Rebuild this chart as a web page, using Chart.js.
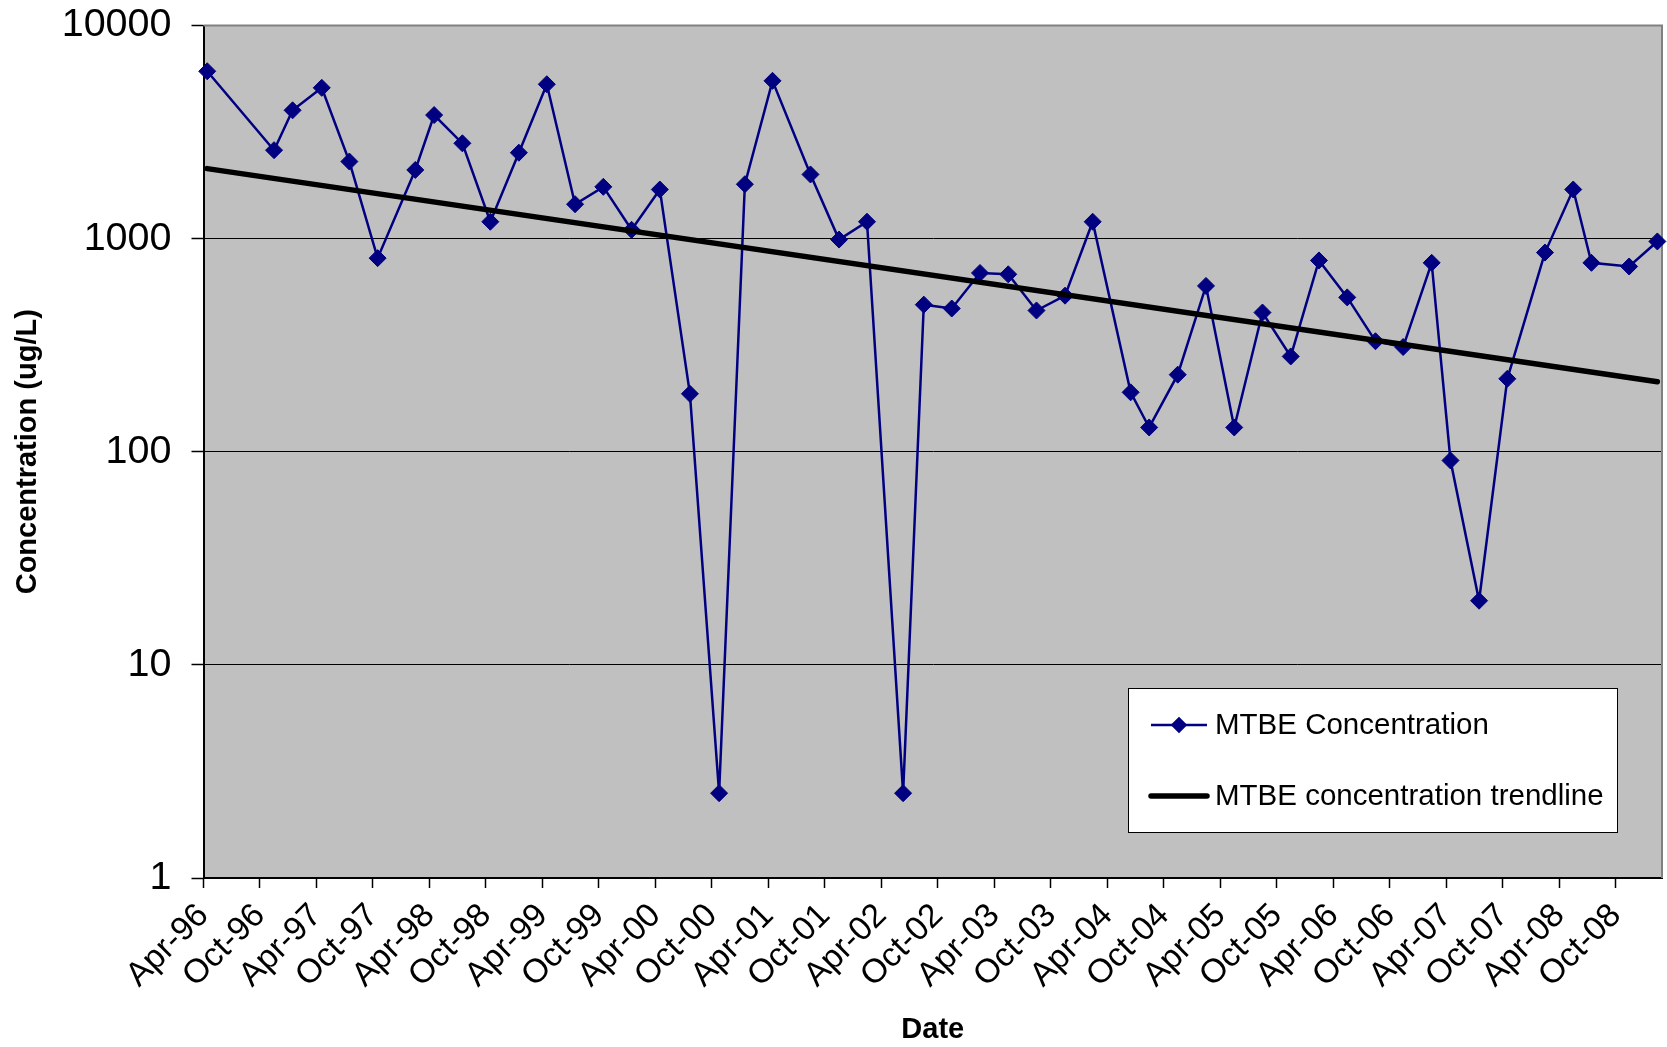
<!DOCTYPE html>
<html>
<head>
<meta charset="utf-8">
<title>MTBE Concentration</title>
<script src="https://cdn.jsdelivr.net/npm/chart.js@4.4.1/dist/chart.umd.min.js"></script>
<style>
  html, body { margin: 0; padding: 0; background: #ffffff; overflow: hidden; }
  canvas { display: block; }
</style>
</head>
<body>
<canvas id="chart" width="1667" height="1047"></canvas>
<script>
// Sampling dates (YYYY-MM-DD) and measured MTBE concentrations (ug/L)
const sampleDates = [
  '1996-04-13', '1996-11-16', '1997-01-15', '1997-04-18', '1997-07-16', '1997-10-16',
  '1998-02-16', '1998-04-16', '1998-07-16', '1998-10-15', '1999-01-16', '1999-04-15',
  '1999-07-15', '1999-10-15', '2000-01-15', '2000-04-15', '2000-07-21', '2000-10-24',
  '2001-01-16', '2001-04-14', '2001-08-15', '2001-11-16', '2002-02-15', '2002-06-10',
  '2002-08-16', '2002-11-15', '2003-02-15', '2003-05-15', '2003-08-15', '2003-11-16',
  '2004-02-14', '2004-06-15', '2004-08-14', '2004-11-15', '2005-02-15', '2005-05-15',
  '2005-08-15', '2005-11-15', '2006-02-15', '2006-05-15', '2006-08-15', '2006-11-13',
  '2007-02-14', '2007-04-14', '2007-07-15', '2007-10-15', '2008-02-15', '2008-05-15',
  '2008-07-13', '2008-11-13', '2009-02-13'
];
const mtbeValues = [
  6100, 2600, 4000, 5100, 2300, 810,
  2100, 3800, 2800, 1200, 2530, 5300,
  1450, 1750, 1100, 1700, 187, 2.5,
  1800, 5500, 2000, 990, 1200, 2.5,
  490, 470, 690, 680, 460, 540,
  1200, 190, 130, 230, 600, 130,
  450, 280, 790, 530, 330, 310,
  770, 91, 20, 220, 860, 1700,
  770, 740, 970
];

// Exponential trendline end points
const trendDates = ['1996-04-13', '2009-02-13'];
const trendValues = [2130, 213];

// Date axis tick labels (every six months)
const tickLabels = [
  'Apr-96', 'Oct-96', 'Apr-97', 'Oct-97', 'Apr-98', 'Oct-98', 'Apr-99', 'Oct-99',
  'Apr-00', 'Oct-00', 'Apr-01', 'Oct-01', 'Apr-02', 'Oct-02', 'Apr-03', 'Oct-03',
  'Apr-04', 'Oct-04', 'Apr-05', 'Oct-05', 'Apr-06', 'Oct-06', 'Apr-07', 'Oct-07',
  'Apr-08', 'Oct-08'
];
const axisStartDate = '1996-04-01';
const axisEndDate = '2009-02-28';

// Concentration axis ticks
const concentrationTicks = [1, 10, 100, 1000, 10000];

const seriesLabel = 'MTBE Concentration';
const trendLabel = 'MTBE concentration trendline';

// ---- helpers: dates are placed on a continuous month scale ----
const MONTHS = { Jan: 1, Feb: 2, Mar: 3, Apr: 4, May: 5, Jun: 6, Jul: 7, Aug: 8, Sep: 9, Oct: 10, Nov: 11, Dec: 12 };
const [baseY, baseM] = axisStartDate.split('-').map(Number);
function monthPos(iso) {
  const [y, m, d] = iso.split('-').map(Number);
  return (y - baseY) * 12 + (m - baseM) + (d - 1) / 30.44;
}
function labelPos(lbl) {
  const [mon, yy] = lbl.split('-');
  const y = Number(yy) + (Number(yy) > 50 ? 1900 : 2000);
  return (y - baseY) * 12 + (MONTHS[mon] - baseM);
}
const tickPositions = tickLabels.map(labelPos);
const labelByPos = new Map(tickPositions.map((p, i) => [p, tickLabels[i]]));

const mtbePoints = sampleDates.map((d, i) => ({ x: monthPos(d), y: mtbeValues[i] }));
const trendPoints = trendDates.map((d, i) => ({ x: monthPos(d), y: trendValues[i] }));

const NAVY = '#000080';
const FONT = "'Liberation Sans', Arial, Helvetica, sans-serif";

// Grey plot area and its outline
const plotArea = {
  id: 'plotArea',
  beforeDraw(chart) {
    const { ctx, chartArea: a } = chart;
    ctx.save();
    ctx.fillStyle = '#c0c0c0';
    ctx.fillRect(a.left, a.top, a.right - a.left, a.bottom - a.top);
    ctx.restore();
  },
  beforeDatasetsDraw(chart) {
    const { ctx, chartArea: a } = chart;
    ctx.save();
    ctx.strokeStyle = '#808080';
    ctx.lineWidth = 2;
    ctx.beginPath();
    ctx.moveTo(a.left, a.top);
    ctx.lineTo(a.right, a.top);
    ctx.lineTo(a.right, a.bottom);
    ctx.stroke();
    ctx.restore();
  }
};

// Boxed legend inside the lower right of the plot
const boxLegend = {
  id: 'boxLegend',
  afterDraw(chart) {
    const { ctx, chartArea: a } = chart;
    const w = 489, h = 144;
    const x = a.right - 45 - w;
    const y = a.bottom - 46 - h;
    ctx.save();
    ctx.fillStyle = '#ffffff';
    ctx.fillRect(x, y, w, h);
    ctx.strokeStyle = '#000000';
    ctx.lineWidth = 1;
    ctx.strokeRect(x + 0.5, y + 0.5, w, h);

    const items = chart.data.datasets.slice().sort((p, q) => q.order - p.order);
    const rows = [y + 37, y + 108];
    items.forEach((ds, i) => {
      const ry = rows[i];
      ctx.strokeStyle = ds.borderColor;
      ctx.lineWidth = ds.borderWidth;
      ctx.lineCap = ds.borderCapStyle || 'butt';
      ctx.beginPath();
      ctx.moveTo(x + 23, ry);
      ctx.lineTo(x + 79, ry);
      ctx.stroke();
      if (ds.pointRadius > 0) {
        Chart.helpers.drawPoint(ctx, {
          pointStyle: ds.pointStyle, radius: ds.pointRadius - 2, borderWidth: 1
        }, x + 51, ry);
        ctx.fillStyle = ds.pointBackgroundColor;
        ctx.fill();
      }
      ctx.fillStyle = '#000000';
      ctx.font = `29.5px ${FONT}`;
      ctx.textBaseline = 'middle';
      ctx.textAlign = 'left';
      ctx.fillText(ds.label, x + 87, ry + 1);
    });
    ctx.restore();
  }
};

new Chart(document.getElementById('chart'), {
  type: 'line',
  data: {
    datasets: [
      {
        label: seriesLabel,
        data: mtbePoints,
        borderColor: NAVY,
        backgroundColor: NAVY,
        borderWidth: 2.5,
        pointStyle: 'rectRot',
        pointRadius: 8.5,
        pointBorderWidth: 1,
        pointBackgroundColor: NAVY,
        pointBorderColor: NAVY,
        tension: 0,
        clip: false,
        order: 1
      },
      {
        label: trendLabel,
        data: trendPoints,
        borderColor: '#000000',
        backgroundColor: '#000000',
        borderWidth: 5.5,
        borderCapStyle: 'round',
        pointRadius: 0,
        tension: 0,
        order: 0
      }
    ]
  },
  options: {
    responsive: false,
    animation: false,
    devicePixelRatio: 1,
    layout: { autoPadding: false, padding: { left: 0, right: 5, top: 25.5, bottom: 0 } },
    plugins: {
      legend: { display: false },
      tooltip: { enabled: false }
    },
    scales: {
      x: {
        type: 'linear',
        min: monthPos(axisStartDate),
        max: monthPos(axisEndDate),
        afterBuildTicks(scale) {
          scale.ticks = tickPositions.map(v => ({ value: v }));
        },
        afterFit(scale) {
          scale.height = 169;
          scale.paddingLeft = 0;
          scale.paddingRight = 0;
        },
        ticks: {
          autoSkip: false,
          maxRotation: 45,
          minRotation: 45,
          padding: 8,
          color: '#000000',
          font: { family: FONT, size: 33.5 },
          callback: v => labelByPos.get(v) ?? ''
        },
        grid: {
          drawOnChartArea: false,
          drawTicks: true,
          tickLength: 10,
          tickColor: '#000000',
          tickWidth: 1.5
        },
        border: { display: true, color: '#000000', width: 2 },
        title: {
          display: true,
          text: 'Date',
          color: '#000000',
          font: { family: FONT, size: 29, weight: 'bold' },
          padding: { top: 0, bottom: 0 }
        }
      },
      y: {
        type: 'logarithmic',
        min: 1,
        max: 10000,
        afterBuildTicks(scale) {
          scale.ticks = concentrationTicks.map(v => ({ value: v }));
        },
        afterFit(scale) {
          scale.width = 203.5;
          scale.paddingTop = 0;
          scale.paddingBottom = 0;
        },
        ticks: {
          padding: 20,
          color: '#000000',
          font: { family: FONT, size: 39.5 },
          callback: v => String(v)
        },
        grid: {
          drawOnChartArea: true,
          drawTicks: true,
          tickLength: 12,
          tickColor: '#000000',
          tickWidth: 1.5,
          color: c => (c.tick && c.tick.value === 10000 ? 'rgba(0,0,0,0)' : '#000000'),
          lineWidth: 1
        },
        border: { display: true, color: '#000000', width: 2 },
        title: {
          display: true,
          text: 'Concentration (ug/L)',
          color: '#000000',
          font: { family: FONT, size: 29, weight: 'bold' },
          padding: { top: 11, bottom: 0 }
        }
      }
    }
  },
  plugins: [plotArea, boxLegend]
});
</script>
</body>
</html>
